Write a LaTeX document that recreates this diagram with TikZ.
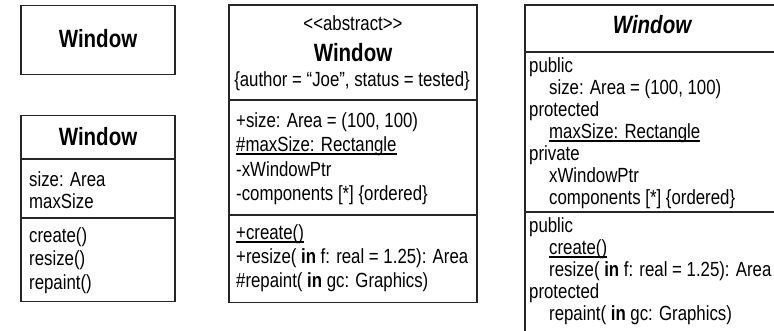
\documentclass[tikz,border=0pt]{standalone}
\usepackage{fontspec}
\setmainfont{Liberation Sans}[FakeStretch=0.82]
% underline drawn at a fixed depth below the baseline
\newcommand\ulin[1]{\setbox0\hbox{#1}\rlap{\rule[-3.5pt]{\wd0}{1.1pt}}\box0}
\newcommand\bodyfont{\fontsize{20.5}{22}\selectfont}
\newcommand\titlefont{\fontsize{25}{25}\selectfont\bfseries}
\begin{document}
\begin{tikzpicture}[x=1pt,y=-1pt,
  frame/.style={line width=1.2pt, draw=black!85},
  txt/.style={anchor=base west, inner sep=0pt, font=\bodyfont},
  ctr/.style={anchor=base, inner sep=0pt, font=\bodyfont},
  ttl/.style={anchor=base, inner sep=0pt, font=\titlefont}]
\useasboundingbox (0,0) rectangle (774,330);

% --- class with name compartment only
\draw[frame] (21,5.5) rectangle (175,74.7);
\node[ttl] (w1) at (98,47) {Window};

% --- class with attributes and operations
\draw[frame] (21,115.3) rectangle (175,301.7);
\draw[frame] (21,159) -- (175,159);
\draw[frame] (21,218) -- (175,218);
\node[ttl] (w2) at (98,145) {Window};
\node[txt] (w2a1) at (29,186) {size: Area};
\node[txt] (w2a2) at (29,208.5) {maxSize};
\node[txt] (w2o1) at (29,242) {create()};
\node[txt] (w2o2) at (29,265.5) {resize()};
\node[txt] (w2o3) at (29,289) {repaint()};

% --- abstract class with visibility markers
\draw[frame] (229,5) rectangle (477,302.7);
\draw[frame] (229,100) -- (477,100);
\draw[frame] (229,215) -- (477,215);
\node[ctr] (w3s) at (353,30) {<\kern0pt<abstract>\kern0pt>};
\node[ttl] (w3) at (353,61) {Window};
\node[ctr] (w3t) at (352,86) {\{author = “Joe”, status = tested\}};
\node[txt] (w3a1) at (236,127) {+size: Area = (100, 100)};
\node[txt] (w3a2) at (236,151) {\ulin{\#maxSize: Rectangle}};
\node[txt] (w3a3) at (236,176) {-xWindowPtr};
\node[txt] (w3a4) at (236,200) {-components [*] \{ordered\}};
\node[txt] (w3o1) at (236,239) {\ulin{+create()}};
\node[txt] (w3o2) at (236,263) {+resize( \textbf{in} f: real = 1.25): Area};
\node[txt] (w3o3) at (236,287) {\#repaint( \textbf{in} gc: Graphics)};

% --- class grouped by visibility sections
\begin{scope}
\clip (0,0) rectangle (774,330);
\draw[frame] (525,345) -- (525,5) -- (790,5);
\draw[frame] (525,52) -- (790,52);
\draw[frame] (525,212) -- (790,212);
\end{scope}
\node[ttl, font=\titlefont\itshape] (w4) at (652,33) {Window};
\node[txt] (w4a1) at (529,72) {public};
\node[txt] (w4a2) at (549,94) {size: Area = (100, 100)};
\node[txt] (w4a3) at (529,116) {protected};
\node[txt] (w4a4) at (549,138) {\ulin{maxSize: Rectangle}};
\node[txt] (w4a5) at (529,160) {private};
\node[txt] (w4a6) at (549,182) {xWindowPtr};
\node[txt] (w4a7) at (549,204) {components [*] \{ordered\}};
\node[txt] (w4o1) at (529,232) {public};
\node[txt] (w4o2) at (549,254) {\ulin{create()}};
\node[txt] (w4o3) at (549,276) {resize( \textbf{in} f: real = 1.25): Area};
\node[txt] (w4o4) at (529,298) {protected};
\node[txt] (w4o5) at (549,320) {repaint( \textbf{in} gc: Graphics)};
\end{tikzpicture}
\end{document}
